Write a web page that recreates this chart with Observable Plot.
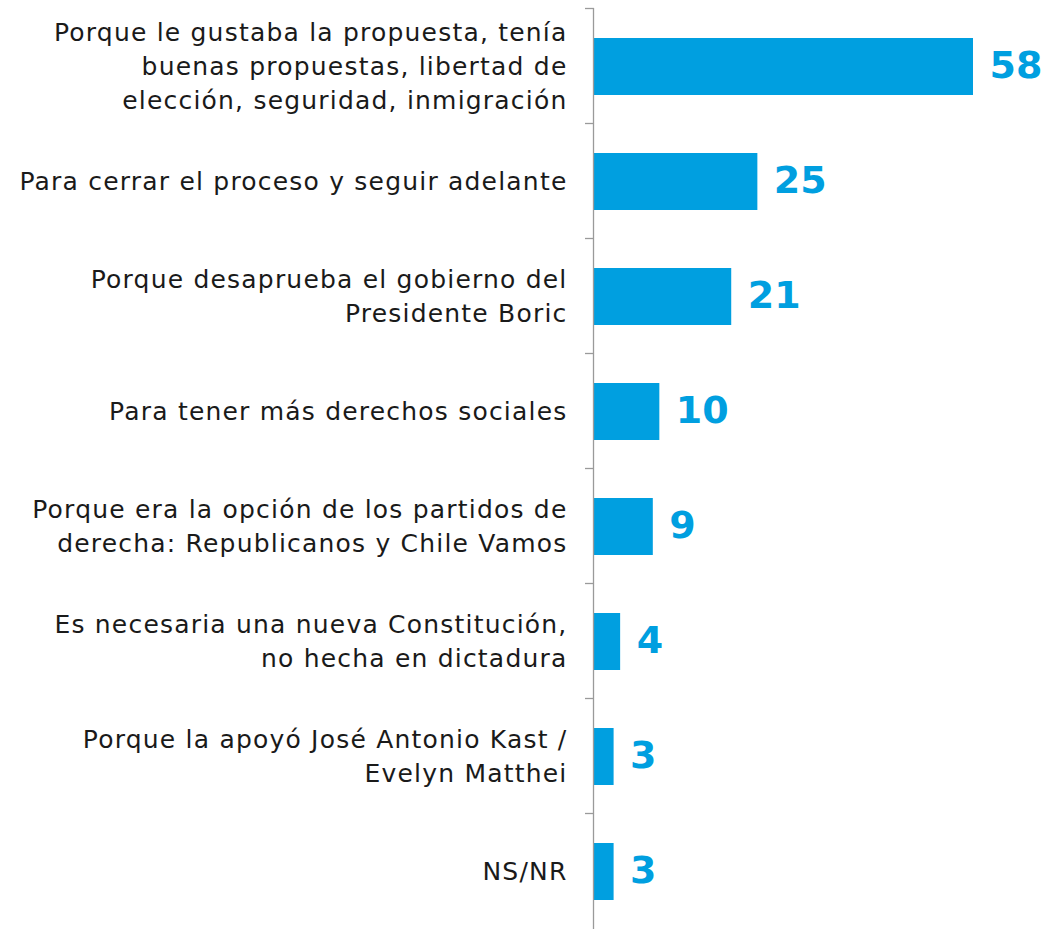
<!DOCTYPE html>
<html>
<head>
<meta charset="utf-8">
<script src="https://cdn.jsdelivr.net/npm/d3@7"></script>
<script src="https://cdn.jsdelivr.net/npm/@observablehq/plot@0.6"></script>
<style>
  html, body { margin: 0; padding: 0; background: #fff; overflow: hidden; }
  #chart svg { display: block; }
</style>
</head>
<body>
<div id="chart"></div>
<script>
const categories = [
  "Porque le gustaba la propuesta, tenía\nbuenas propuestas, libertad de\nelección, seguridad, inmigración",
  "Para cerrar el proceso y seguir adelante",
  "Porque desaprueba el gobierno del\nPresidente Boric",
  "Para tener más derechos sociales",
  "Porque era la opción de los partidos de\nderecha: Republicanos y Chile Vamos",
  "Es necesaria una nueva Constitución,\nno hecha en dictadura",
  "Porque la apoyó José Antonio Kast /\nEvelyn Matthei",
  "NS/NR"
];
const values = [58, 25, 21, 10, 9, 4, 3, 3];

const data = categories.map((c, i) => ({category: c, value: values[i]}));
const blue = "#009fe0";
const axisColor = "#9a9a9a";

const boundaryTicks = (index, scales, vals, dims) => {
  const g = d3.create("svg:g");
  for (const c of categories) {
    const y = scales.y(c);
    g.append("line")
      .attr("x1", dims.marginLeft - 9).attr("x2", dims.marginLeft)
      .attr("y1", y - 0.5).attr("y2", y - 0.5)
      .attr("stroke", axisColor).attr("stroke-width", 1.3);
  }
  g.append("line")
    .attr("x1", dims.marginLeft - 0.5).attr("x2", dims.marginLeft - 0.5)
    .attr("y1", scales.y(categories[0]) - 1).attr("y2", dims.height)
    .attr("stroke", axisColor).attr("stroke-width", 1.3);
  return g.node();
};

const chart = Plot.plot({
  width: 1048,
  height: 929,
  marginLeft: 594,
  marginRight: 75,
  marginTop: 8,
  marginBottom: 0,
  x: {domain: [0, 58], axis: null},
  y: {domain: categories, paddingInner: 0, paddingOuter: 0, axis: null},
  style: {fontFamily: "'DejaVu Sans', sans-serif"},
  marks: [
    Plot.barX(data, {y: "category", x: "value", fill: blue, insetTop: 29, insetBottom: 29}),
    boundaryTicks,
    Plot.text(data, {
      y: "category", x: 0, text: "category", textAnchor: "end", dx: -27, dy: -3,
      fontSize: 25, lineHeight: 1.37, fill: "#1a1a1a",
      style: "letter-spacing: 1.2px"
    }),
    Plot.text(data, {
      y: "category", x: "value", text: d => String(d.value), textAnchor: "start", dx: 16, dy: -1,
      fontSize: 38, fontWeight: "bold", fill: blue
    })
  ]
});
chart.querySelectorAll("g[aria-label=text]")[0]?.setAttribute("letter-spacing", "1.2");
document.getElementById("chart").append(chart);
</script>
</body>
</html>
